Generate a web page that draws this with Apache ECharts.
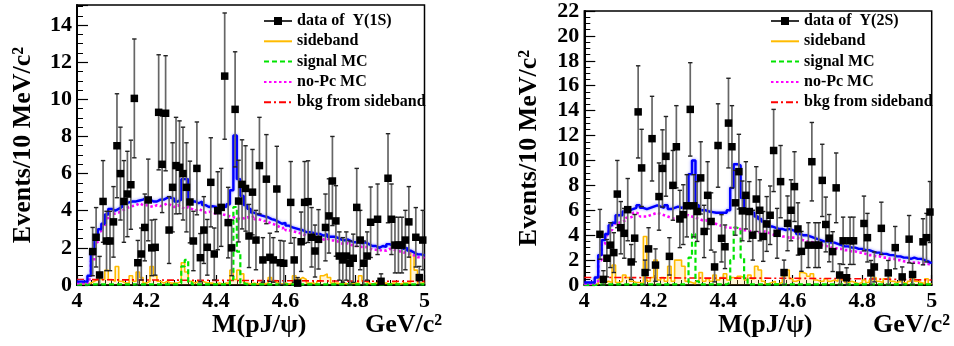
<!DOCTYPE html>
<html>
<head>
<meta charset="utf-8">
<script src="https://cdn.jsdelivr.net/npm/echarts@6/dist/echarts.min.js"></script>
<style>
  html, body { margin: 0; padding: 0; background: #fff; }
  #chart { width: 954px; height: 346px; }
</style>
</head>
<body>
<div id="chart"></div>
<script>
// 100 bins of 10 MeV between 4.0 and 5.0 GeV/c^2
const binEdges = Array.from({ length: 101 }, (_, i) => +(4 + i * 0.01).toFixed(2))
const bkgKnots = [4.0, 4.1, 4.2, 4.3, 4.4, 4.5, 4.6, 4.7, 4.8, 4.9, 5.0]
const xTicks = ['4', '4.2', '4.4', '4.6', '4.8', '5']

// ---- Y(1S) panel ----
const dataY1S = [
  null, null, null, null, 1.8, 2.57, 0.54, 4.5, 2.37, 2.37,
  3.4, 7.5, 6.0, 4.5, 4.9, 5.4, 10.05, 1.2, 1.67, 3.1,
  4.58, 2.0, 2.03, 9.3, 6.5, 9.25, 2.96, 5.26, 6.43, 6.34,
  6.0, 5.26, 4.47, 2.37, 6.28, 1.47, 2.96, 2.03, 5.53, 1.67,
  4.0, 4.18, 11.25, 3.36, 2.0, 9.46, 4.52, 5.42, 5.2, 2.64,
  5.0, 2.42, 6.43, 1.35, 5.7, 1.49, 1.35, 5.17, 1.2, 1.17,
  null, 4.45, 1.35, 0.1, 2.33, 4.45, 4.49, 2.57, 1.83, 2.46,
  null, 3.1, 3.72, 5.6, 3.45, 1.56, 1.35, 1.56, 1.17, 1.44,
  4.18, 2.42, 1.17, 1.56, 3.38, null, 3.54, 0.2, null, 5.75,
  3.54, 2.15, 2.15, 2.15, 2.42, 3.4, null, 2.57, 0.4, 2.42
]
const errY1S = [
  null, null, null, null, 1.3, 1.6, 1.0, 2.2, 1.6, 1.6,
  1.9, 2.8, 2.5, 2.2, 2.3, 2.4, 3.2, 1.2, 1.4, 1.8,
  2.2, 1.5, 1.5, 3.1, 2.6, 3.1, 1.8, 2.4, 2.6, 2.5,
  2.5, 2.4, 2.2, 1.6, 2.5, 1.3, 1.8, 1.5, 2.4, 1.4,
  2.1, 2.1, 3.4, 1.9, 1.5, 3.1, 2.2, 2.4, 2.3, 1.7,
  2.3, 1.6, 2.6, 1.2, 2.4, 1.3, 1.2, 2.3, 1.2, 1.2,
  null, 2.2, 1.2, 0.3, 1.6, 2.2, 2.2, 1.6, 1.4, 1.6,
  null, 1.8, 2.0, 2.4, 1.9, 1.3, 1.2, 1.3, 1.2, 1.3,
  2.1, 1.6, 1.2, 1.3, 1.9, null, 1.9, 0.4, null, 2.4,
  1.9, 1.5, 1.5, 1.5, 1.6, 1.9, null, 1.6, 0.6, 1.6
]
const totalY1S = [
  0.18, 0.18, 0.18, 0.5, 1.7, 2.6, 3.0, 3.3, 3.8, 4.1,
  4.0, 4.1, 4.2, 4.4, 4.45, 4.5, 4.5, 4.55, 4.6, 4.7,
  4.6, 4.5, 4.5, 4.6, 4.6, 4.7, 4.7, 4.65, 4.5, 4.6,
  5.7, 5.7, 4.5, 4.5, 4.4, 4.5, 4.3, 4.2, 4.25, 4.2,
  4.2, 4.25, 4.2, 4.35, 5.1, 8.05, 5.7, 4.8, 4.3, 4.1,
  3.9, 3.8, 3.75, 3.7, 3.65, 3.55, 3.5, 3.4, 3.3, 3.35,
  3.2, 3.1, 3.05, 3.0, 2.95, 2.85, 2.85, 2.8, 2.75, 2.75,
  2.65, 2.75, 2.6, 2.6, 2.55, 2.45, 2.4, 2.45, 2.35, 2.3,
  2.35, 2.25, 2.3, 2.2, 2.1, 2.1, 2.0, 2.1, 2.05, 2.2,
  2.1, 2.05, 2.0, 1.95, 2.0, 1.85, 1.75, 1.65, 1.65, 1.6
]
const noPcY1S = [
  0.1, 0.1, 0.1, 0.3, 1.3, 2.3, 2.9, 3.1, 3.6, 3.8,
  3.85, 3.9, 4.0, 4.1, 4.2, 4.25, 4.3, 4.4, 4.3, 4.3,
  4.25, 4.2, 4.3, 4.25, 4.3, 4.4, 4.3, 4.2, 4.3, 4.2,
  4.1, 4.2, 4.1, 4.0, 4.1, 4.0, 3.9, 3.95, 3.9, 3.85,
  3.9, 3.8, 3.75, 3.7, 3.65, 3.6, 3.55, 3.6, 3.65, 3.6,
  3.7, 3.55, 3.5, 3.45, 3.4, 3.3, 3.25, 3.15, 3.05, 3.1,
  2.95, 2.9, 2.85, 2.8, 2.75, 2.65, 2.65, 2.6, 2.55, 2.55,
  2.45, 2.5, 2.4, 2.4, 2.35, 2.25, 2.2, 2.25, 2.15, 2.1,
  2.1, 2.05, 2.05, 2.0, 1.9, 1.9, 1.85, 1.9, 1.85, 1.95,
  1.9, 1.85, 1.8, 1.75, 1.75, 1.65, 1.6, 1.5, 1.5, 1.45
]
const signalY1S = [
  0.02, 0.02, 0.02, 0.03, 0.03, 0.03, 0.03, 0.03, 0.03, 0.03,
  0.03, 0.03, 0.03, 0.03, 0.03, 0.03, 0.03, 0.03, 0.03, 0.03,
  0.03, 0.03, 0.03, 0.03, 0.03, 0.03, 0.03, 0.03, 0.03, 0.1,
  1.0, 1.35, 0.15, 0.03, 0.03, 0.03, 0.03, 0.03, 0.03, 0.03,
  0.03, 0.03, 0.03, 0.03, 0.3, 4.2, 1.8, 0.1, 0.03, 0.03,
  0.03, 0.03, 0.03, 0.03, 0.03, 0.03, 0.03, 0.03, 0.03, 0.03,
  0.03, 0.03, 0.03, 0.03, 0.03, 0.03, 0.03, 0.03, 0.03, 0.03,
  0.03, 0.03, 0.03, 0.03, 0.03, 0.03, 0.03, 0.03, 0.03, 0.03,
  0.03, 0.03, 0.03, 0.03, 0.03, 0.03, 0.03, 0.03, 0.03, 0.03,
  0.03, 0.03, 0.03, 0.03, 0.03, 0.03, 0.03, 0.03, 0.03, 0.03
]
const sidebandY1S = [
  0.05, 0.05, 0.05, 0.1, 0.2, 0.3, 0.5, 0.3, 0.8, 0.3,
  0.2, 1.0, 0.2, 0.1, 0.1, 0.5, 0.2, 0.7, 0.4, 0.1,
  0.2, 1.0, 0.5, 0.2, 0.1, 0.2, 0.1, 0.1, 0.1, 0.2,
  1.2, 0.7, 0.2, 0.1, 0.2, 0.2, 0.15, 0.1, 0.1, 0.05,
  0.1, 0.05, 0.1, 0.1, 0.8, 0.3, 0.8, 0.6, 0.1, 0.05,
  0.1, 0.05, 0.1, 0.05, 0.1, 0.4, 0.2, 0.1, 0.05, 0.1,
  0.05, 0.1, 0.5, 0.3, 0.4, 0.3, 0.1, 0.1, 0.05, 0.2,
  0.5, 0.6, 0.4, 0.1, 0.1, 0.05, 0.1, 0.05, 0.1, 0.1,
  0.1, 0.5, 0.2, 0.1, 0.05, 0.1, 0.1, 0.3, 0.1, 0.05,
  0.1, 0.1, 0.05, 0.1, 0.1, 0.1, 1.8, 0.8, 0.1, 0.1
]
const bkgY1S = [0.3, 0.28, 0.27, 0.26, 0.25, 0.24, 0.23, 0.22, 0.21, 0.2, 0.2]

// ---- Y(2S) panel ----
const dataY2S = [
  null, null, null, null, 4.07, 0.45, 2.15, 3.2, 2.6, 7.3,
  4.6, 4.15, 6.05, 1.85, 3.76, 13.9, 9.4, 1.0, 2.9, 11.75,
  1.6, 7.1, 9.36, 10.33, 2.3, 8.0, 11.1, 5.3, 5.65, 6.36,
  14.1, 6.36, 5.9, 8.6, 4.3, 7.2, 5.1, 1.45, 11.2, 3.75,
  3.07, 13.0, 11.1, 6.6, 9.1, 5.95, 7.2, 5.9, 4.0, 6.9,
  6.0, 3.9, 4.9, 5.6, 10.8, 4.15, 8.3, 1.0, 4.95, 6.0,
  7.9, 4.5, 2.7, null, 3.2, 9.9, 3.2, 3.2, 8.4, 4.86,
  3.76, 2.68, 7.8, 0.8, 3.55, 0.58, 3.55, 3.55, null, null,
  4.94, 3.8, 0.97, 1.45, null, 4.55, null, 0.97, null, 3.0,
  null, 0.65, null, 3.68, 0.84, null, null, 3.47, 3.8, 5.86
]
const errY2S = [
  null, null, null, null, 2.0, 0.7, 1.5, 1.8, 1.6, 2.7,
  2.1, 2.0, 2.5, 1.4, 1.9, 3.7, 3.1, 1.0, 1.7, 3.4,
  1.3, 2.7, 3.1, 3.2, 1.5, 2.8, 3.3, 2.3, 2.4, 2.5,
  3.75, 2.5, 2.4, 2.9, 2.1, 2.7, 2.3, 1.2, 3.35, 1.9,
  1.75, 3.6, 3.3, 2.6, 3.0, 2.4, 2.7, 2.4, 2.0, 2.6,
  2.45, 2.0, 2.2, 2.35, 3.3, 2.0, 2.9, 1.0, 2.2, 2.45,
  2.8, 2.1, 1.6, null, 1.8, 3.15, 1.8, 1.8, 2.9, 2.2,
  1.9, 1.6, 2.8, 0.9, 1.9, 0.8, 1.9, 1.9, null, null,
  2.2, 1.95, 1.0, 1.2, null, 2.1, null, 1.0, null, 1.7,
  null, 0.8, null, 1.9, 0.9, null, null, 1.85, 1.95, 2.45
]
const totalY2S = [
  0.2, 0.2, 0.2, 0.6, 2.4, 3.6, 4.1, 4.8, 5.0, 5.6,
  5.6, 5.9, 6.0, 6.1, 6.2, 6.4, 6.2, 6.1, 6.2, 6.3,
  6.4, 6.3, 6.2, 6.4, 6.1, 6.2, 6.3, 6.2, 6.3, 6.3,
  8.9, 10.0, 6.4, 6.0, 6.0, 5.9, 5.85, 5.8, 5.8, 5.8,
  5.8, 6.0, 7.8, 9.7, 9.6, 7.0, 6.0, 5.9, 5.8, 5.5,
  5.3, 5.1, 5.0, 4.7, 4.6, 4.5, 4.5, 4.4, 4.5, 4.4,
  4.3, 4.1, 4.0, 4.0, 3.9, 3.8, 3.7, 3.6, 3.5, 3.5,
  3.4, 3.4, 3.3, 3.2, 3.1, 3.1, 3.0, 3.0, 2.9, 2.9,
  2.8, 2.8, 2.7, 2.6, 2.6, 2.5, 2.5, 2.4, 2.4, 2.3,
  2.3, 2.2, 2.2, 2.1, 2.2, 2.1, 2.1, 2.0, 1.9, 1.75
]
const noPcY2S = [
  0.1, 0.1, 0.1, 0.3, 2.0, 3.3, 4.0, 4.4, 4.8, 5.0,
  5.1, 5.2, 5.4, 5.5, 5.8, 5.7, 5.5, 5.5, 5.6, 5.7,
  5.8, 5.7, 5.6, 5.5, 5.4, 5.3, 5.4, 5.5, 5.6, 5.6,
  5.5, 5.4, 5.3, 5.2, 5.2, 5.1, 5.0, 4.9, 4.8, 4.7,
  4.6, 4.6, 4.6, 4.5, 4.5, 4.4, 4.4, 4.3, 4.2, 4.2,
  4.3, 4.3, 4.2, 4.1, 4.0, 4.0, 3.9, 3.9, 3.8, 3.8,
  3.8, 3.7, 3.6, 3.5, 3.5, 3.4, 3.3, 3.2, 3.2, 3.1,
  3.0, 3.0, 2.9, 2.9, 2.8, 2.8, 2.7, 2.7, 2.6, 2.6,
  2.5, 2.4, 2.4, 2.3, 2.3, 2.2, 2.2, 2.1, 2.1, 2.0,
  2.0, 1.9, 1.9, 1.8, 1.8, 1.8, 1.7, 1.7, 1.7, 1.6
]
const signalY2S = [
  0.0, 0.0, 0.0, 0.02, 0.05, 0.05, 0.05, 0.05, 0.05, 0.05,
  0.05, 0.05, 0.05, 0.05, 0.05, 0.05, 0.05, 0.05, 0.05, 0.05,
  0.05, 0.05, 0.05, 0.05, 0.05, 0.05, 0.05, 0.05, 0.05, 0.2,
  2.2, 4.1, 0.3, 0.05, 0.05, 0.05, 0.05, 0.05, 0.05, 0.05,
  0.05, 0.2, 2.0, 4.6, 4.5, 2.2, 0.5, 0.05, 0.05, 0.05,
  0.05, 0.05, 0.05, 0.05, 0.05, 0.05, 0.05, 0.05, 0.05, 0.05,
  0.05, 0.05, 0.05, 0.05, 0.05, 0.05, 0.05, 0.05, 0.05, 0.05,
  0.05, 0.05, 0.05, 0.05, 0.05, 0.05, 0.05, 0.05, 0.05, 0.05,
  0.05, 0.05, 0.05, 0.05, 0.05, 0.05, 0.05, 0.05, 0.05, 0.05,
  0.05, 0.05, 0.05, 0.05, 0.05, 0.05, 0.05, 0.05, 0.05, 0.05
]
const sidebandY2S = [
  0.05, 0.05, 0.05, 0.1, 0.5, 0.2, 0.3, 0.2, 1.6, 0.2,
  0.3, 0.8, 0.6, 0.3, 0.2, 0.2, 0.1, 3.9, 0.3, 0.6,
  2.0, 0.4, 0.6, 0.3, 1.5, 0.3, 2.0, 2.0, 1.5, 0.3,
  0.2, 0.1, 0.3, 1.0, 0.3, 0.5, 0.3, 0.8, 0.4, 0.6,
  0.9, 0.4, 0.6, 0.5, 0.7, 0.6, 0.4, 0.8, 0.5, 1.5,
  1.2, 0.3, 0.1, 0.2, 0.3, 0.1, 0.2, 0.7, 1.2, 0.5,
  0.3, 0.4, 1.0, 0.9, 0.7, 0.9, 0.4, 0.3, 0.3, 0.5,
  0.3, 0.4, 0.3, 0.8, 0.4, 0.2, 0.3, 0.2, 0.1, 0.2,
  0.4, 0.2, 0.4, 0.6, 0.3, 0.2, 0.5, 0.6, 0.3, 0.2,
  0.3, 0.2, 0.1, 0.3, 0.6, 0.3, 0.2, 0.1, 0.5, 0.1
]
const bkgY2S = [0.6, 0.6, 0.58, 0.56, 0.55, 0.55, 0.54, 0.52, 0.5, 0.45, 0.4]

const FONT = 'Liberation Serif'
const LEGEND_NAMES = ['sideband', 'signal MC', 'no-Pc MC', 'bkg from sideband']

// step outline: each bin drawn flat from its low edge to the next edge
const histPoints = vals => {
  const pts = vals.map((v, i) => [binEdges[i], v])
  pts.push([binEdges[vals.length], vals[vals.length - 1]])
  return pts
}
const centers = binEdges.slice(0, -1).map((e, i) => (e + binEdges[i + 1]) / 2)
const dataPoints = vals => vals.map((v, i) => (v == null ? null : [centers[i], v])).filter(Boolean)
const errPoints = (vals, errs) =>
  vals.map((v, i) => (v == null ? null : [centers[i], v, errs[i]])).filter(Boolean)

const renderErr = (params, api) => {
  const x = api.value(0)
  const y = api.value(1)
  const e = api.value(2)
  const top = api.coord([x, y + e])
  const bot = api.coord([x, Math.max(0, y - e)])
  const cap = 2.2
  return {
    type: 'group',
    children: [
      { type: 'line', shape: { x1: top[0], y1: top[1], x2: bot[0], y2: bot[1] }, style: { stroke: '#666', lineWidth: 1.7 } },
      { type: 'line', shape: { x1: top[0] - cap, y1: top[1], x2: top[0] + cap, y2: top[1] }, style: { stroke: '#222', lineWidth: 1.4 } },
      { type: 'line', shape: { x1: bot[0] - cap, y1: bot[1], x2: bot[0] + cap, y2: bot[1] }, style: { stroke: '#222', lineWidth: 1.4 } }
    ]
  }
}

const panel = (idx, p) => {
  const ax = { xAxisIndex: idx, yAxisIndex: idx }
  return [
    {
      ...ax, name: 'sideband', type: 'line', step: 'end', symbol: 'none', z: 2,
      data: histPoints(p.sideband),
      lineStyle: { color: '#ffbb00', width: 1.6 },
      itemStyle: { color: '#ffbb00' },
      areaStyle: { color: 'rgba(255, 205, 60, 0.3)' }
    },
    {
      ...ax, name: 'bkg from sideband', type: 'line', symbol: 'none', z: 3,
      data: bkgKnots.map((x, i) => [x, p.bkg[i]]),
      lineStyle: { color: '#ff0000', width: 1.6, type: [7, 3, 2, 3] },
      itemStyle: { color: '#ff0000' }
    },
    {
      ...ax, name: 'signal MC', type: 'line', step: 'end', symbol: 'none', z: 4,
      data: histPoints(p.signal),
      lineStyle: { color: '#00e400', width: 2.2, type: [5, 3] },
      itemStyle: { color: '#00e400' }
    },
    {
      ...ax, name: 'no-Pc MC', type: 'line', step: 'end', symbol: 'none', z: 5,
      data: histPoints(p.noPc),
      lineStyle: { color: '#ff00ff', width: 2.6, type: [2.5, 2.5] },
      itemStyle: { color: '#ff00ff' }
    },
    {
      ...ax, name: 'total fit', type: 'line', step: 'end', symbol: 'none', z: 6,
      data: histPoints(p.total),
      lineStyle: { color: '#0000ff', width: 2.4, shadowColor: 'rgba(90, 90, 255, 0.7)', shadowBlur: 3 }
    },
    {
      ...ax, name: 'errors', type: 'custom', z: 7, clip: true,
      renderItem: renderErr,
      encode: { x: 0, y: 1 },
      data: errPoints(p.data, p.err)
    },
    {
      ...ax, name: p.dataName, type: 'line', z: 8,
      data: dataPoints(p.data),
      symbol: 'rect', symbolSize: 7.5, showAllSymbol: true,
      lineStyle: { opacity: 0, color: '#000' },
      itemStyle: { color: '#000' }
    }
  ]
}

const xAxis = gridIndex => ({
  gridIndex, type: 'value', min: 4, max: 5, interval: 0.2,
  axisLine: { onZero: false, lineStyle: { color: '#000', width: 2 } },
  axisTick: { inside: true, length: 10, lineStyle: { color: '#000', width: 1.2 } },
  minorTick: { show: true, splitNumber: 10, length: 5, lineStyle: { color: '#000', width: 1 } },
  splitLine: { show: false },
  axisLabel: {
    margin: 5, color: '#000', fontFamily: FONT, fontWeight: 'bold', fontSize: 22,
    formatter: v => xTicks[Math.round((v - 4) / 0.2)] || ''
  }
})

const yAxis = (gridIndex, max, gap, showMax) => ({
  gridIndex, type: 'value', min: 0, max, interval: 2,
  name: 'Events/10 MeV/c²', nameLocation: 'middle', nameGap: gap,
  nameTextStyle: { color: '#000', fontFamily: FONT, fontWeight: 'bold', fontSize: 26 },
  axisLine: { lineStyle: { color: '#000', width: 2 } },
  axisTick: { inside: true, length: 11, lineStyle: { color: '#000', width: 1.2 } },
  minorTick: { show: true, splitNumber: 4, length: 6, lineStyle: { color: '#000', width: 1 } },
  splitLine: { show: false },
  axisLabel: {
    margin: 5, color: '#000', fontFamily: FONT, fontWeight: 'bold', fontSize: 22,
    showMaxLabel: showMax
  }
})

// legend icons: plain line for the histograms, line + square for the data
const legend = (left, dataName) => ({
  left, top: 8, orient: 'vertical', selectedMode: false,
  itemWidth: 28, itemHeight: 10, itemGap: 4.3,
  itemStyle: { opacity: 0 },
  textStyle: { color: '#000', fontFamily: FONT, fontWeight: 'bold', fontSize: 16, lineHeight: 16 },
  data: [
    { name: dataName, lineStyle: { opacity: 1, color: '#000', width: 1.6 }, itemStyle: { color: '#000', opacity: 1 } },
    ...LEGEND_NAMES
  ]
})

const titleText = (left, text) => ({
  type: 'text', left, top: 312,
  style: { text, fill: '#000', font: `bold 26px "${FONT}"` }
})

const chart = echarts.init(document.getElementById('chart'))
chart.setOption({
  animation: false,
  grid: [
    { left: 77, right: 529.5, top: 5, bottom: 61, show: true, borderColor: '#000', borderWidth: 1.5 },
    { left: 584.3, right: 22.3, top: 6, bottom: 61, show: true, borderColor: '#000', borderWidth: 1.5 }
  ],
  xAxis: [xAxis(0), xAxis(1)],
  yAxis: [yAxis(0, 15.08, 41, false), yAxis(1, 22, 42, true)],
  legend: [legend(258, 'data of  Υ(1S)'), legend(765, 'data of  Υ(2S)')],
  graphic: [
    titleText(212, 'M(pJ/ψ)'),
    titleText(365, 'GeV/c²'),
    titleText(718, 'M(pJ/ψ)'),
    titleText(873, 'GeV/c²')
  ],
  series: [
    ...panel(0, {
      dataName: 'data of  Υ(1S)', data: dataY1S, err: errY1S, total: totalY1S,
      noPc: noPcY1S, signal: signalY1S, sideband: sidebandY1S, bkg: bkgY1S
    }),
    ...panel(1, {
      dataName: 'data of  Υ(2S)', data: dataY2S, err: errY2S, total: totalY2S,
      noPc: noPcY2S, signal: signalY2S, sideband: sidebandY2S, bkg: bkgY2S
    })
  ]
})
</script>
</body>
</html>
